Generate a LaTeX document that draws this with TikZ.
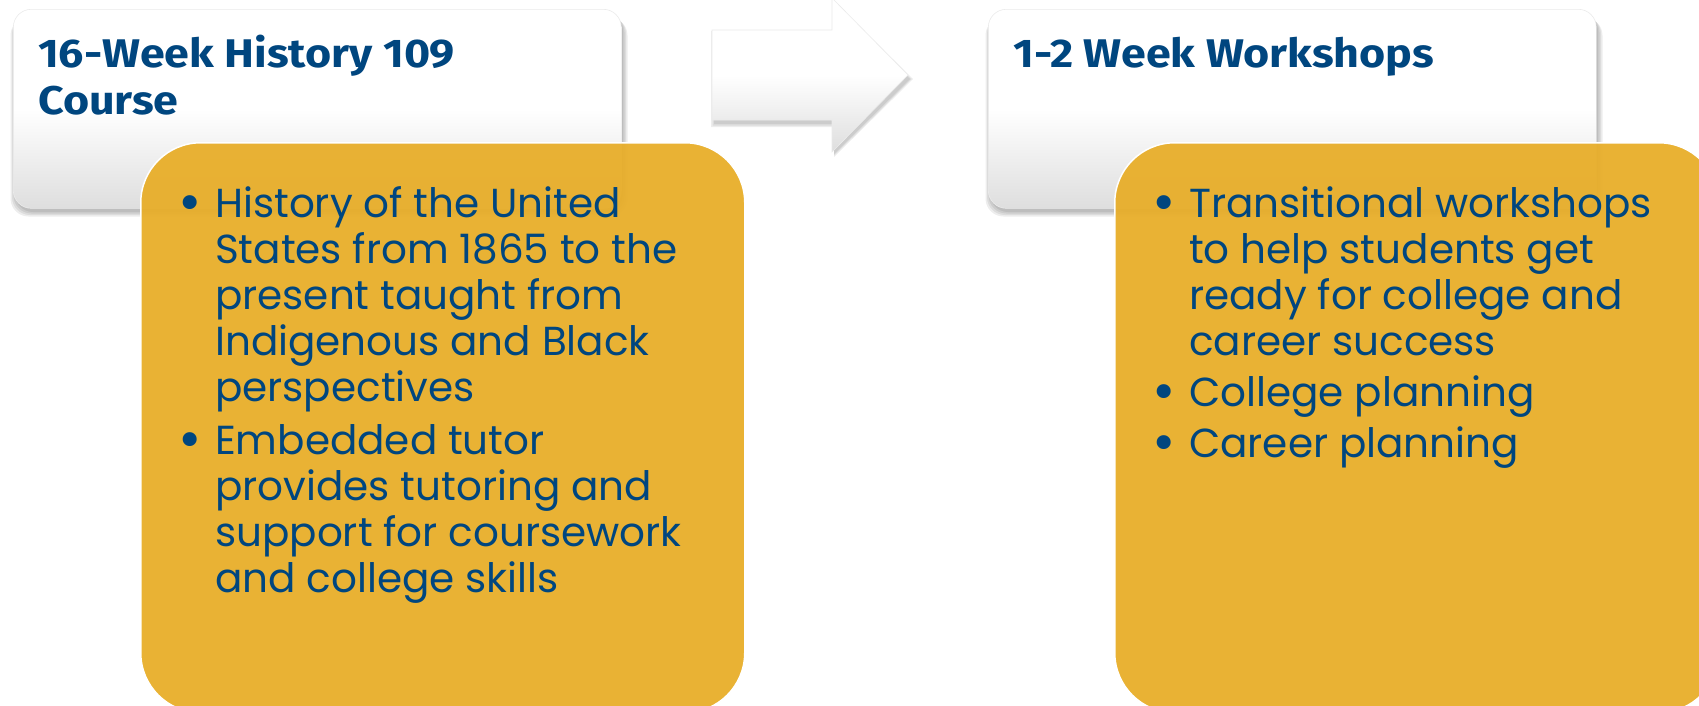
\documentclass[tikz,border=0pt]{standalone}
\usepackage{fontspec}
\setmainfont{Poppins}
\newfontfamily\titlefont{Fira Sans}[FakeStretch=1.12]
\usepackage{array}
\definecolor{navy}{RGB}{0,70,127}
\definecolor{gold}{RGB}{232,174,42}
\newcommand{\bul}{\smash{\raisebox{-4pt}{\scalebox{1.4}{\textbullet}}}}
\begin{document}
\begin{tikzpicture}[x=1pt,y=1pt,
  wbox/.style={rounded corners=18pt, top color=white, bottom color=black!13, middle color=white, draw=black!8, line width=0.6pt, inner sep=0pt},
  gbox/.style={rounded corners=60pt, fill=gold, fill opacity=0.95, draw=white, line width=1.5pt, inner sep=0pt},
  shadowlayer/.style={rounded corners=18pt, fill=black, fill opacity=0.07, draw=none},
  ttl/.style={anchor=base west, inner sep=0pt, text=navy, font=\titlefont\bfseries\fontsize{40}{47}\selectfont},
  blist/.style={anchor=base west, inner sep=0pt, text=navy, font=\fontsize{40.5}{46}\selectfont}
]
\useasboundingbox (0,0) rectangle (1699,-705);
\clip (0,0) rectangle (1699,-705);
\fill[white] (0,0) rectangle (1699,-705);

% shadows of white boxes
\foreach \d in {0,1.5,3,4.5}{
  \path[shadowlayer] (13-\d+2,-9-\d-4) rectangle (621+\d+2,-208-\d-4);
  \path[shadowlayer] (988-\d+2,-9-\d-4) rectangle (1596+\d+2,-208-\d-4);
}
% white title boxes
\node[wbox, anchor=north west, minimum width=608pt, minimum height=199pt] (lw) at (13,-9) {};
\node[wbox, anchor=north west, minimum width=608pt, minimum height=199pt] (rw) at (988,-9) {};

% arrow shadow and arrow
\foreach \d in {0,1.5,3}{
  \path[fill=black, fill opacity=0.07] (712-\d+2,-30-4+\d) -- (832+2,-30-4+\d) -- (832+2,0-4+\d) -- (908+2+\d,-75-4) -- (832+2,-150-4-\d) -- (832+2,-120-4-\d) -- (712-\d+2,-120-4-\d) -- cycle;
}
\path[top color=white, bottom color=black!13, middle color=white, draw=black!8, line width=0.6pt]
  (712,-30) coordinate (a1) -- (832,-30) -- (832,2) -- (908,-75) coordinate (tip) -- (832,-152) -- (832,-120) -- (712,-120) -- cycle;

% titles
\node[ttl] (t1a) at (38,-67) {16-Week History 109};
\node[ttl] (t1b) at (38,-114) {Course};
\node[ttl] (t2a) at (1013,-67) {1-2 Week Workshops};

% gold boxes
\node[gbox, anchor=north west, minimum width=604pt, minimum height=570pt] (lg) at (140,-142) {};
\node[gbox, anchor=north west, minimum width=604pt, minimum height=570pt] (rg) at (1114,-142) {};

% bullet lists
\node[blist] (l1) at (178,-217) {\begin{tabular}[t]{@{}p{37pt}@{}l@{}}
\bul & History of the United\\
 & States from 1865 to the\\
 & present taught from\\
 & Indigenous and Black\\
 & perspectives\\[7pt]
\bul & Embedded tutor\\
 & provides tutoring and\\
 & support for coursework\\
 & and college skills
\end{tabular}};
\node[blist] (r1) at (1152,-217) {\begin{tabular}[t]{@{}p{37pt}@{}l@{}}
\bul & Transitional workshops\\
 & to help students get\\
 & ready for college and\\
 & career success\\[5pt]
\bul & College planning\\[5pt]
\bul & Career planning
\end{tabular}};
\end{tikzpicture}
\end{document}
